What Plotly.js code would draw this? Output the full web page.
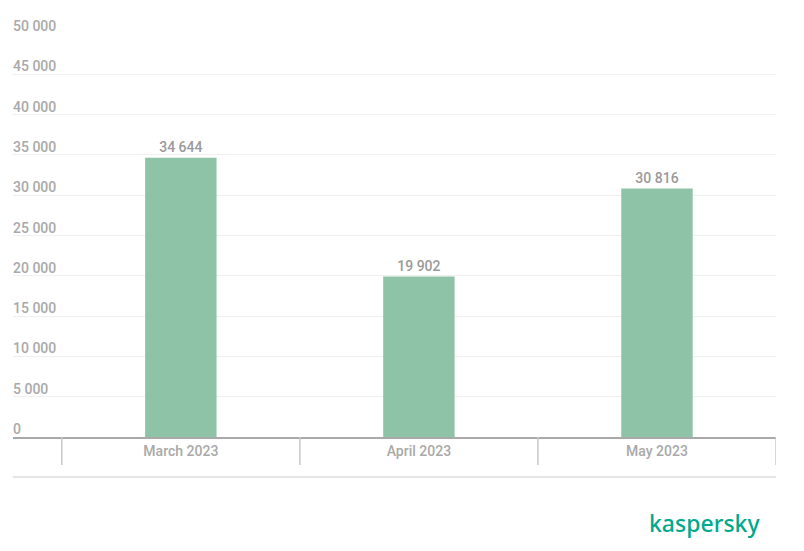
<!DOCTYPE html>
<html>
<head>
<meta charset="utf-8">
<script src="https://cdn.plot.ly/plotly-3.0.1.min.js"></script>
<style>html,body{margin:0;padding:0;background:#fff;}#chart{width:804px;height:551px;}</style>
</head>
<body>
<div id="chart"></div>
<script>
const categories = ["March 2023", "April 2023", "May 2023"];
const values = [34644, 19902, 30816];
const yTickValues = [0, 5000, 10000, 15000, 20000, 25000, 30000, 35000, 40000, 45000, 50000];
const yTickLabels = ["0", "5 000", "10 000", "15 000", "20 000", "25 000", "30 000", "35 000", "40 000", "45 000", "50 000"];

const gray = "#a9a9a9";
const font = "Roboto, 'Open Sans', sans-serif";

const annotations = yTickValues.map((v, i) => ({
  xref: "paper", yref: "y", x: 0, y: v, xanchor: "left", yanchor: "bottom",
  text: yTickLabels[i], showarrow: false, yshift: -2, xshift: -2,
  font: {family: font, size: 14, color: gray, weight: 500}
}));
annotations.push({
  xref: "paper", yref: "paper", x: 0.982, y: -0.213, xanchor: "right", yanchor: "middle",
  text: "kaspersky", showarrow: false,
  font: {family: "'Noto Sans', Roboto, sans-serif", size: 23, color: "#00a88e", weight: 500}
});

const shapes = [];
[-0.5, 0.5, 1.5, 2.5].forEach(x => shapes.push({
  type: "line", xref: "x", yref: "paper", x0: x, x1: x, y0: 0, y1: -28/403,
  line: {color: "#c8c8c8", width: 1.5}
}));
shapes.push({type: "line", xref: "paper", yref: "paper", x0: 0, x1: 1, y0: -40/403, y1: -40/403,
  line: {color: "#dddddd", width: 1.5}});

const trace = {
  type: "bar", x: categories, y: values, width: 0.3,
  marker: {color: "#8fc3a7"},
  text: values, texttemplate: "%{y:,}", textposition: "outside", cliponaxis: false,
  textfont: {family: font, size: 14, color: "#9a9a9a", weight: 500},
  hoverinfo: "none"
};

const layout = {
  width: 804, height: 551,
  margin: {l: 13, r: 28, t: 34, b: 114},
  paper_bgcolor: "#fff", plot_bgcolor: "#fff",
  separators: ". ",
  showlegend: false,
  xaxis: {
    type: "category", range: [-0.705, 2.5], showgrid: false, zeroline: false,
    showline: true, linecolor: gray, linewidth: 2, ticks: "",
    tickfont: {family: font, size: 14, color: gray, weight: 500},
    fixedrange: true
  },
  yaxis: {
    range: [0, 50000], tickvals: yTickValues, showticklabels: false,
    showgrid: true, gridcolor: "#efefef", gridwidth: 1, zeroline: false, fixedrange: true
  },
  annotations: annotations,
  shapes: shapes
};

Plotly.newPlot("chart", [trace], layout, {displayModeBar: false, staticPlot: true});
</script>
</body>
</html>
